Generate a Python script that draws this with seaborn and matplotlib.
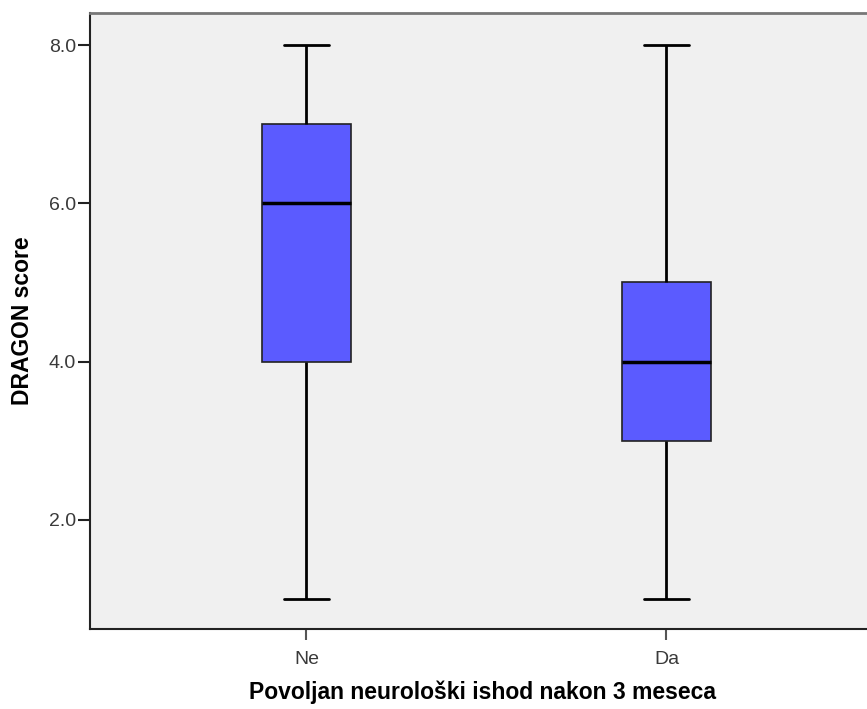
import numpy as np
import pandas as pd
import seaborn as sns
import matplotlib
matplotlib.use("Agg")
import matplotlib.pyplot as plt

categories = ["Ne", "Da"]
ne_values = [1.0, 4.0, 6.0, 7.0, 8.0]
da_values = [1.0, 3.0, 4.0, 5.0, 8.0]
y_ticks = [2.0, 4.0, 6.0, 8.0]
x_label = "Povoljan neurološki ishod nakon 3 meseca"
y_label = "DRAGON score"

df = pd.DataFrame({
    "group": ["Ne"] * len(ne_values) + ["Da"] * len(da_values),
    "score": ne_values + da_values,
})

sns.set_theme(style="white")
plt.rcParams["font.family"] = ["Liberation Sans", "DejaVu Sans"]

fig = plt.figure(figsize=(8.67, 7.09), dpi=100)
ax = fig.add_axes([90 / 867, 1 - 629 / 709, 1 - 90 / 867 + 0.01, (629 - 13) / 709])
ax.set_facecolor("#f0f0f0")

sns.boxplot(
    data=df, x="group", y="score", order=categories, ax=ax,
    color="#5b5bff", saturation=1, width=0.247, whis=(0, 100),
    linecolor="#222222", linewidth=1.2,
    whiskerprops=dict(color="black", linewidth=2),
    capprops=dict(color="black", linewidth=2),
    medianprops=dict(color="black", linewidth=2.5),
)

ax.set_xlim(-0.601, 1.551 + 0.03)
ax.set_ylim(0.62, 8.405)
ax.set_yticks(y_ticks)
ax.set_yticklabels([f"{v:.1f}" for v in y_ticks])
ax.tick_params(axis="y", left=True, length=9, width=1.5, color="#222222",
               labelsize=14, labelcolor="#3a3a3a", pad=1)
ax.tick_params(axis="x", bottom=True, length=8, width=1.5, color="#555555",
               labelsize=14, labelcolor="#3a3a3a", pad=8)

for side in ["left", "bottom"]:
    ax.spines[side].set_color("#222222")
    ax.spines[side].set_linewidth(1.5)
ax.spines["top"].set_color("#777777")
ax.spines["top"].set_linewidth(2)
ax.spines["right"].set_visible(False)

ax.set_xlabel(x_label, fontsize=16.5, fontweight="bold", color="black", labelpad=9)
ax.set_ylabel(y_label, fontsize=16.5, fontweight="bold", color="black", labelpad=11)

fig.savefig("out.png", dpi=100, facecolor="white")
